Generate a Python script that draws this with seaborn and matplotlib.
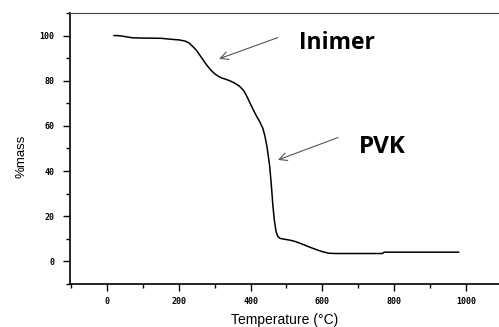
import matplotlib
matplotlib.use("Agg")
import matplotlib.pyplot as plt
import seaborn as sns
import pandas as pd
from matplotlib.ticker import MultipleLocator

# TGA curve of the PVK sample
temperature = [19, 30, 45, 60, 72, 100, 150, 183, 200, 217, 228, 240, 250, 260, 270,
               280, 290, 300, 310, 320, 332, 342, 355, 369, 380, 388, 397, 406, 415,
               425, 434, 440, 446, 453, 458, 462, 466, 471, 476, 482, 495, 510, 525,
               545, 565, 582, 600, 619, 640, 700, 767, 772, 850, 980]
mass = [100.0, 100.0, 99.7, 99.3, 99.0, 98.9, 98.8, 98.3, 98.1, 97.6, 96.8, 95.0, 93.3, 91.0, 88.7,
        86.5, 84.6, 83.1, 82.0, 81.2, 80.6, 80.0, 79.0, 77.6, 75.8, 73.6, 70.6, 67.6, 64.8,
        62.0, 59.0, 55.5, 50.5, 42.5, 33.5, 25.0, 18.5, 13.2, 11.0, 10.2, 9.8, 9.4, 8.8,
        7.6, 6.3, 5.3, 4.3, 3.6, 3.5, 3.5, 3.5, 4.1, 4.1, 4.1]

x_ticks = [0, 200, 400, 600, 800, 1000]
y_ticks = [0, 20, 40, 60, 80, 100]

df = pd.DataFrame({"Temperature": temperature, "mass": mass})

sns.set_style("white")
plt.rcParams["font.family"] = ["DejaVu Sans"]
plt.rcParams["text.color"] = "black"
plt.rcParams["axes.labelcolor"] = "black"
plt.rcParams["xtick.color"] = "black"
plt.rcParams["ytick.color"] = "black"

fig = plt.figure(figsize=(4.99, 3.27), dpi=100)
ax = fig.add_axes([70 / 499, 1 - 284 / 327, 1.0 - 70 / 499, (284 - 13) / 327])

sns.lineplot(data=df, x="Temperature", y="mass", ax=ax, color="black", linewidth=1.1)

ax.set_xlim(-103, 1092)
ax.set_ylim(-10, 110)
ax.set_xticks(x_ticks)
ax.set_yticks(y_ticks)
ax.xaxis.set_minor_locator(MultipleLocator(100))
ax.yaxis.set_minor_locator(MultipleLocator(10))

for side in ["left", "bottom", "top"]:
    ax.spines[side].set_visible(True)
    ax.spines[side].set_color("black")
ax.spines["left"].set_linewidth(1.2)
ax.spines["bottom"].set_linewidth(1.2)
ax.spines["top"].set_linewidth(0.8)
ax.spines["top"].set_color("#444444")
ax.spines["right"].set_visible(False)

ax.tick_params(axis="both", which="major", direction="out", length=5, width=1.0,
               labelsize=6, bottom=True, left=True)
ax.tick_params(axis="x", which="major", pad=4)
ax.tick_params(axis="y", which="major", pad=6)
ax.tick_params(axis="both", which="minor", direction="out", length=3, width=1.0,
               bottom=True, left=True)
for lab in ax.get_xticklabels() + ax.get_yticklabels():
    lab.set_fontweight("bold")
    lab.set_family("DejaVu Sans Mono")

# axis titles
ax.set_xlabel("Temperature (°C)", fontsize=10, family="Liberation Sans")
ax.xaxis.label.set_va("center")
ax.xaxis.set_label_coords((285 - 70) / (499 - 70), -0.133)
ax.set_ylabel("%mass", fontsize=9.5, family="Liberation Sans")
ax.yaxis.set_label_coords(-0.098, 0.47)

# arrows pointing at the two degradation steps
arrow = dict(arrowstyle="->", color="#555555", lw=0.8, mutation_scale=14)
ax.annotate("", xy=(305, 89.3), xytext=(483, 99.5), arrowprops=arrow)
ax.annotate("", xy=(469, 44.5), xytext=(651, 55.3), arrowprops=arrow)

ax.text(535, 96.5, "Inimer", fontsize=16.5, fontweight="bold", family="Open Sans",
        ha="left", va="center")
ax.text(703, 50.5, "PVK", fontsize=17.5, fontweight="bold", family="Open Sans",
        ha="left", va="center")

fig.savefig("out.png", dpi=100)
